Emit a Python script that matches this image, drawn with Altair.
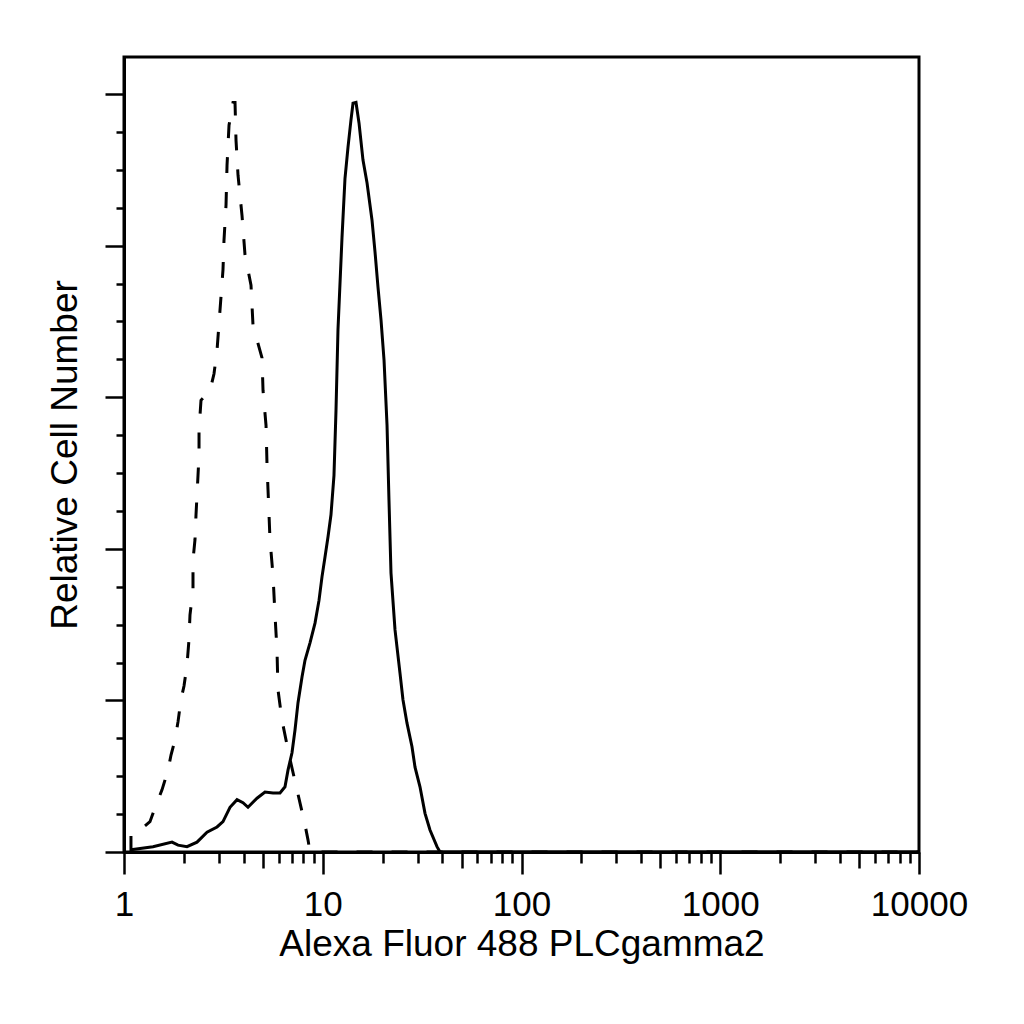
import altair as alt
import pandas as pd

# isotype control (dashed histogram)
iso_x = [1.084, 1.084, 1.204, 1.351, 1.449, 1.553, 1.665, 1.724, 1.806, 1.870,
         1.935, 2.004, 2.075, 2.123, 2.148, 2.224, 2.224, 2.276, 2.303, 2.330,
         2.357, 2.385, 2.385, 2.440, 2.709, 2.837, 2.938, 3.041, 3.148, 3.185,
         3.261, 3.299, 3.376, 3.536, 3.619, 3.661, 3.747, 3.924, 4.063, 4.355,
         4.457, 4.948, 5.006, 5.183, 5.243, 5.304, 5.428, 5.620, 5.751, 5.886,
         5.954, 6.237, 6.765, 7.420, 8.141, 8.429, 8.627, 10000]
iso_y = [0.0, 2.5, 2.9, 4.0, 6.2, 8.2, 10.8, 12.8, 14.8, 17.2,
         20.1, 21.9, 24.7, 28.0, 31.3, 34.6, 38.5, 41.2, 44.5, 47.1,
         49.7, 52.4, 55.7, 59.6, 60.9, 63.1, 66.2, 71.5, 76.8, 80.7,
         85.4, 90.6, 95.9, 98.9, 98.9, 93.9, 89.3, 84.0, 78.8, 74.8,
         69.5, 65.2, 60.9, 56.3, 51.1, 47.8, 41.2, 36.5, 31.3, 26.6,
         21.4, 17.4, 12.8, 8.2, 3.6, 1.6, 0.0, 0.0]

# PLCgamma2 stained cells (solid histogram)
plc_x = [1.084, 1.399, 1.744, 1.870, 2.075, 2.330, 2.616, 2.938, 3.148, 3.415,
         3.704, 3.969, 4.206, 4.669, 5.122, 5.620, 6.094, 6.458, 6.686, 7.003,
         7.251, 7.508, 7.864, 8.141, 8.627, 9.142, 9.575, 9.913, 10.26, 10.63,
         11.00, 11.39, 11.66, 11.93, 12.50, 12.94, 13.40, 13.87, 14.20, 14.70,
         15.22, 15.94, 16.70, 17.69, 18.32, 18.97, 19.64, 20.34, 21.06, 21.54,
         22.05, 23.10, 24.47, 25.33, 26.54, 28.12, 29.12, 30.85, 32.70, 34.64,
         37.57, 38.9, 10000]
plc_y = [0.3, 0.7, 1.3, 0.9, 0.7, 1.3, 2.6, 3.3, 4.0, 5.9,
         6.9, 6.5, 5.9, 7.1, 7.9, 7.8, 7.8, 8.6, 10.8, 13.1,
         16.1, 19.7, 23.1, 25.3, 27.6, 30.2, 33.2, 36.3, 38.9, 41.6,
         44.5, 49.7, 58.3, 68.9, 81.1, 88.9, 93.0, 96.6, 98.8, 98.9,
         96.2, 91.3, 88.3, 83.4, 79.2, 74.5, 70.2, 64.9, 56.3, 46.4,
         36.8, 29.3, 23.6, 20.1, 17.0, 13.9, 11.2, 8.6, 5.1, 2.9,
         0.7, 0.0, 0.0]

x_major = [1, 10, 100, 1000, 10000]
x_mid = [5, 50, 500, 5000]
x_minor = [2, 3, 4, 6, 7, 8, 9, 20, 30, 40, 60, 70, 80, 90,
           200, 300, 400, 600, 700, 800, 900, 2000, 3000, 4000, 6000, 7000, 8000, 9000]
y_major = [0, 20, 40, 60, 80, 100]
y_minor = [5, 10, 15, 25, 30, 35, 45, 50, 55, 65, 70, 75, 85, 90, 95]

df_iso = pd.DataFrame({"x": iso_x, "y": iso_y, "i": range(len(iso_x))})
df_plc = pd.DataFrame({"x": plc_x, "y": plc_y, "i": range(len(plc_x))})

FONT = "Liberation Sans"
xs = alt.Scale(type="log", domain=[1, 10000], nice=False)
ys = alt.Scale(domain=[0, 104.9], nice=False, zero=False)

common = dict(grid=False, tickColor="black", tickWidth=2.5, domainColor="black", domainWidth=3)

# dashed control, carries the main axes
iso = alt.Chart(df_iso).mark_line(color="black", strokeWidth=3, strokeDash=[16, 19]).encode(
    x=alt.X("x:Q", scale=xs, axis=alt.Axis(
        orient="bottom", values=x_major, tickSize=22, format="d",
        labelFont=FONT, labelFontSize=35, labelColor="black", labelPadding=13,
        labelFlush=False, labelOverlap=False, labelBound=False,
        title="Alexa Fluor 488 PLCgamma2", titleFont=FONT, titleFontSize=37,
        titleFontWeight="normal", titleColor="black", titlePadding=4, **common)),
    y=alt.Y("y:Q", scale=ys, axis=alt.Axis(
        orient="left", values=y_major, tickSize=19, labels=False,
        title="Relative Cell Number", titleFont=FONT, titleFontSize=37,
        titleFontWeight="normal", titleColor="black", titlePadding=19, **common)),
    order="i:Q",
)

# solid stained sample, carries the minor ticks
plc = alt.Chart(df_plc).mark_line(color="black", strokeWidth=3).encode(
    x=alt.X("x:Q", scale=xs, axis=alt.Axis(
        orient="bottom", values=x_minor, tickSize=11, labels=False, title="", **common)),
    y=alt.Y("y:Q", scale=ys, axis=alt.Axis(
        orient="left", values=y_minor, tickSize=8, labels=False, title="", **common)),
    order="i:Q",
)

# invisible copy, only for the mid-length ticks at 5, 50, ...
mid = alt.Chart(df_plc).mark_line(strokeOpacity=0).encode(
    x=alt.X("x:Q", scale=xs, axis=alt.Axis(
        orient="bottom", values=x_mid, tickSize=16, labels=False, title="", **common)),
    y=alt.Y("y:Q", scale=ys, axis=None),
    order="i:Q",
)

chart = (
    alt.layer(iso, plc, mid)
    .resolve_axis(x="independent", y="independent")
    .properties(width=795, height=795, autosize="none", background="white",
                padding={"left": 116, "top": 49, "right": 90, "bottom": 150})
    .configure_view(stroke="black", strokeWidth=3)
)

chart.save("out.html", embed_options={"renderer": "svg", "actions": False})
